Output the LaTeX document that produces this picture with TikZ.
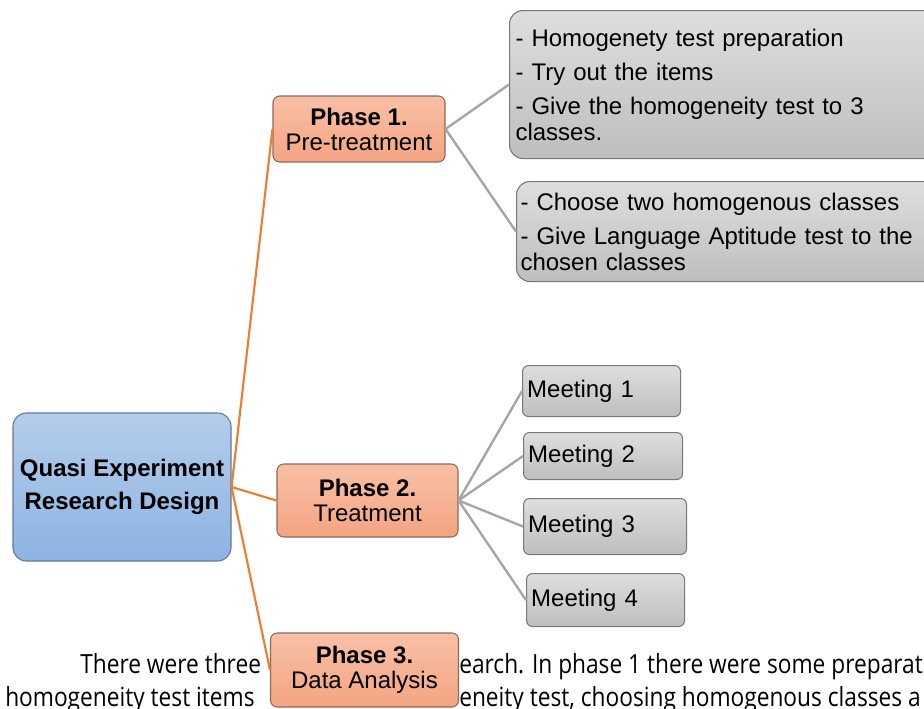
\documentclass[tikz,border=0pt]{standalone}
\usepackage{fontspec}
\setmainfont{Liberation Sans}
\newfontfamily\bodyfont[FakeStretch=0.86]{Open Sans}
\usetikzlibrary{positioning}
\definecolor{RootTop}{RGB}{180,205,235}
\definecolor{RootBot}{RGB}{141,179,226}
\definecolor{RootLine}{RGB}{105,120,145}
\definecolor{PhTop}{RGB}{248,192,166}
\definecolor{PhBot}{RGB}{244,164,130}
\definecolor{PhLine}{RGB}{140,105,90}
\definecolor{GyTop}{RGB}{222,222,222}
\definecolor{GyBot}{RGB}{190,190,190}
\definecolor{GyLine}{RGB}{120,120,120}
\definecolor{OrLine}{RGB}{237,125,49}
\definecolor{GyLink}{RGB}{166,166,166}

\tikzset{
  rootbox/.style={draw=RootLine, line width=0.8pt, rounded corners=10pt,
    top color=RootTop, bottom color=RootBot, align=center, inner sep=0pt,
    font=\bfseries\fontsize{18}{24.75}\selectfont},
  phasebox/.style={draw=PhLine, line width=0.8pt, rounded corners=5pt,
    top color=PhTop, bottom color=PhBot, align=center, inner sep=0pt,
    font=\fontsize{18}{18.75}\selectfont},
  notebox/.style={draw=GyLine, line width=0.8pt, rounded corners=10pt,
    top color=GyTop, bottom color=GyBot, align=left, anchor=north west,
    inner xsep=4.5pt, inner ysep=0pt, font=\fontsize{18}{19.5}\selectfont},
  meetbox/.style={notebox, rounded corners=4.5pt, inner xsep=3.5pt},
  rootlink/.style={OrLine, line width=1.6pt},
  leaflink/.style={GyLink, line width=1.8pt},
  bodytxt/.style={font=\bodyfont\fontsize{19.8}{24}\selectfont,
    anchor=base west, inner sep=0pt}
}

\begin{document}
\begin{tikzpicture}[x=0.75pt, y=-0.75pt]
\path[use as bounding box, clip] (0,0) rectangle (924,708);

% page text behind the diagram
\node[bodytxt] (txta) at (80,673) {There were three};
\node[bodytxt] (txtb) at (459,673) {earch. In phase 1 there were some preparat};
\node[bodytxt] (txtc) at (5,706) {homogeneity test items};
\node[bodytxt] (txtd) at (459,706) {eneity test, choosing homogenous classes a};

% root and phases
\node[rootbox, minimum width=163.5pt, minimum height=111pt] (root) at (122,487)
  {Quasi Experiment\\Research Design};
\node[phasebox, minimum width=129pt, minimum height=49.5pt] (ph1) at (359,129)
  {{\bfseries Phase 1.}\\Pre-treatment};
\node[phasebox, minimum width=135.75pt, minimum height=54.75pt] (ph2) at (367.5,500.5)
  {{\bfseries Phase 2.}\\Treatment};
\node[phasebox, minimum width=141pt, minimum height=55.5pt] (ph3) at (364.5,670)
  {{\bfseries Phase 3.}\\Data Analysis};

% phase 1 notes
\node[notebox, text width=313.5pt, minimum height=111pt] (prep) at (509,10)
  {- Homogenety test preparation\\[6pt]
   - Try out the items\\[6pt]
   - Give the homogeneity test to 3\\
   classes.};
\node[notebox, inner xsep=3pt, text width=312pt, minimum height=75pt] (choose) at (516,181)
  {- Choose two homogenous classes\\[6pt]
   - Give Language Aptitude test to the\\
   chosen classes};

% phase 2 meetings
\node[meetbox, text width=111.5pt, minimum height=38.25pt] (m1) at (522,365) {Meeting 1};
\node[meetbox, text width=112.25pt, minimum height=35.25pt] (m2) at (523,432) {Meeting 2};
\node[meetbox, text width=115.25pt, minimum height=42pt] (m3) at (523,498) {Meeting 3};
\node[meetbox, text width=111.5pt, minimum height=39.75pt] (m4) at (526,573) {Meeting 4};

% links
\foreach \ph in {ph1,ph2,ph3}
  \draw[rootlink] (root.east) -- (\ph.west);
\draw[leaflink] (ph1.east) -- (prep.west);
\draw[leaflink] (ph1.east) -- (choose.west);
\foreach \m in {m1,m2,m3,m4}
  \draw[leaflink] (ph2.east) -- (\m.west);
\end{tikzpicture}
\end{document}
